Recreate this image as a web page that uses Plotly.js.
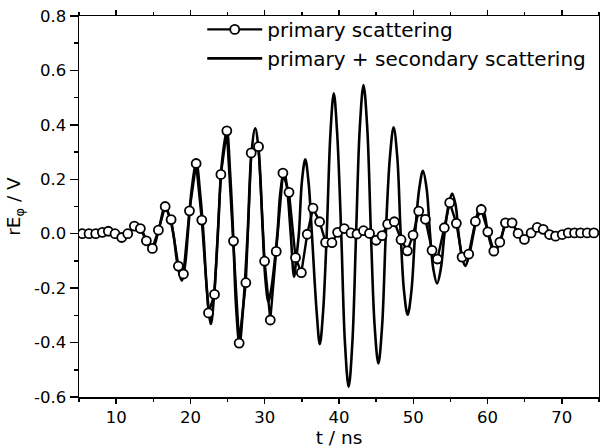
<!DOCTYPE html>
<html>
<head>
<meta charset="utf-8">
<script src="https://cdn.plot.ly/plotly-3.0.1.min.js"></script>
<style>html,body{margin:0;padding:0;background:#fff;}#chart{width:600px;height:448px;}</style>
</head>
<body>
<div id="chart"></div>
<script>
// primary scattering (sampled, circles)
var primaryT = [5.45,6.35,7.25,8.14,8.95,9.85,10.75,11.56,12.45,13.26,14.07,14.88,15.69,16.6,17.4,18.38,19.06,19.87,20.77,21.53,22.43,23.24,24.1,24.9,25.8,26.56,27.46,28.18,29.17,29.98,30.75,31.55,32.45,33.27,34.15,34.93,35.72,36.5,37.39,38.2,39.05,39.81,40.71,41.61,42.42,43.3,44.11,45.0,45.8,46.55,47.45,48.35,49.2,49.97,50.73,51.63,52.52,53.25,54.18,54.9,55.8,56.57,57.46,58.36,59.15,60.03,60.84,61.65,62.41,63.3,64.11,64.96,65.87,66.68,67.49,68.34,69.15,70.05,70.86,71.71,72.52,73.42,74.31];
var primaryE = [0.0,0.0,0.0,0.005,0.009,0.0,-0.014,0.0,0.028,0.019,-0.026,-0.054,0.013,0.10,0.052,-0.119,-0.148,0.084,0.258,0.050,-0.291,-0.223,0.218,0.378,-0.027,-0.402,-0.18,0.297,0.32,-0.101,-0.317,-0.065,0.223,0.152,-0.088,-0.143,-0.002,0.094,0.044,-0.032,-0.033,0.005,0.019,0.003,-0.001,0.011,0.001,-0.024,-0.007,0.035,0.044,-0.022,-0.063,-0.005,0.083,0.053,-0.061,-0.093,0.022,0.114,0.038,-0.086,-0.075,0.045,0.089,0.007,-0.064,-0.031,0.040,0.040,0.001,-0.021,0.003,0.023,0.016,-0.003,-0.009,-0.003,0.003,0.003,0.003,0.003,0.003];

// primary + secondary scattering (continuous curve)
var totalT = [5.0,7.0,8.5,9.8,10.8,11.6,12.5,13.3,14.1,14.9,15.7,16.6,17.2,17.7,18.3,18.84,19.3,19.65,20.2,20.8,21.3,21.75,22.2,22.75,23.25,23.7,24.2,24.9,25.35,25.75,26.15,26.6,27.1,27.7,28.2,28.72,29.2,29.75,30.1,30.5,30.9,31.7,32.1,32.6,33.0,33.5,33.95,34.25,34.6,35.0,35.46,35.9,36.35,37.0,37.42,37.85,38.35,38.85,39.3,39.75,40.3,40.8,41.3,41.8,42.3,42.8,43.3,43.8,44.3,44.8,45.3,45.8,46.3,46.85,47.35,47.85,48.3,48.75,49.24,49.75,50.25,50.8,51.3,51.8,52.25,52.7,53.2,53.7,54.2,54.75,55.23,55.7,56.1,56.55,57.0,57.5,58.1,58.65,59.13,59.6,60.0,60.45,60.9,61.7,62.6,63.3,64.1,65.0,65.9,66.7,67.5,68.4,69.2,70.0,71.0,73.0,75.0];
var totalE = [0.0,0.0,0.005,0.0,-0.013,0.0,0.027,0.018,-0.026,-0.055,0.012,0.10,0.06,0.0,-0.12,-0.173,-0.11,0.0,0.17,0.262,0.15,0.0,-0.2,-0.332,-0.2,0.0,0.25,0.38,0.22,0.0,-0.27,-0.405,-0.27,0.0,0.29,0.387,0.3,0.0,-0.17,-0.25,-0.2,0.0,0.15,0.23,0.17,0.0,-0.158,-0.09,0.0,0.19,0.273,0.19,0.0,-0.29,-0.406,-0.29,0.0,0.37,0.516,0.37,0.0,-0.40,-0.563,-0.40,0.0,0.39,0.546,0.39,0.0,-0.34,-0.477,-0.34,0.0,0.28,0.391,0.28,0.0,-0.21,-0.298,-0.21,0.0,0.165,0.231,0.165,0.0,-0.13,-0.183,-0.13,0.0,0.105,0.148,0.105,0.0,-0.085,-0.118,-0.08,0.0,0.075,0.105,0.07,0.01,-0.04,-0.07,-0.03,0.045,0.04,0.0,-0.021,0.003,0.022,0.015,-0.003,-0.008,-0.003,0.002,0.002,0.002];

var seriesNames = ['primary scattering', 'primary + secondary scattering'];
var xTickVals = [10,20,30,40,50,60,70];
var xTickText = ['10','20','30','40','50','60','70'];
var yTickVals = [-0.6,-0.4,-0.2,0.0,0.2,0.4,0.6,0.8];
var yTickText = ['-0.6','-0.4','-0.2','0.0','0.2','0.4','0.6','0.8'];

var FONT = 'DejaVu Sans, Arial, sans-serif';

var traces = [
  {
    x: totalT, y: totalE, name: seriesNames[1], type: 'scatter', mode: 'lines',
    line: {color: '#000', width: 2.6, shape: 'spline', smoothing: 1},
    showlegend: true
  },
  {
    x: primaryT, y: primaryE, name: seriesNames[0], type: 'scatter', mode: 'lines+markers',
    line: {color: '#000', width: 2.4},
    marker: {symbol: 'circle', size: 9, color: '#fff', line: {color: '#000', width: 1.8}}
  }
];

var layout = {
  width: 600, height: 448,
  margin: {l: 79, r: 1, t: 16, b: 51, pad: 0},
  paper_bgcolor: '#fff', plot_bgcolor: '#fff',
  font: {family: FONT, color: '#000', size: 16.5},
  showlegend: true,
  legend: {
    x: 0.237, xanchor: 'left', y: 1.016, yanchor: 'top',
    bgcolor: 'rgba(0,0,0,0)', borderwidth: 0,
    traceorder: 'reversed', itemwidth: 55,
    font: {family: FONT, size: 20, color: '#000'}
  },
  xaxis: {
    range: [5, 75], tickmode: 'array', tickvals: xTickVals, ticktext: xTickText,
    ticks: 'outside', ticklen: 5, tickwidth: 1.5, tickcolor: '#000',
    minor: {ticks: 'outside', ticklen: 3, tickwidth: 1.5, tickcolor: '#000', dtick: 5, tick0: 0},
    showline: true, linewidth: 1.5, linecolor: '#000', mirror: 'allticks',
    showgrid: false, zeroline: false,
    tickfont: {family: FONT, size: 16.5},
    title: {text: 't / ns', font: {family: FONT, size: 18.5}, standoff: 4}
  },
  yaxis: {
    range: [-0.6, 0.8], tickmode: 'array', tickvals: yTickVals, ticktext: yTickText,
    ticks: 'outside', ticklen: 8, tickwidth: 1.5, tickcolor: '#000',
    minor: {ticks: 'outside', ticklen: 4, tickwidth: 1.5, tickcolor: '#000', dtick: 0.1, tick0: 0},
    showline: true, linewidth: 1.5, linecolor: '#000', mirror: true,
    showgrid: false, zeroline: false,
    tickfont: {family: FONT, size: 16.5},
    title: {text: 'rE<sub>φ</sub> / V', font: {family: FONT, size: 18.5}, standoff: 8}
  }
};

Plotly.newPlot('chart', traces, layout, {staticPlot: true, displayModeBar: false});
</script>
</body>
</html>
